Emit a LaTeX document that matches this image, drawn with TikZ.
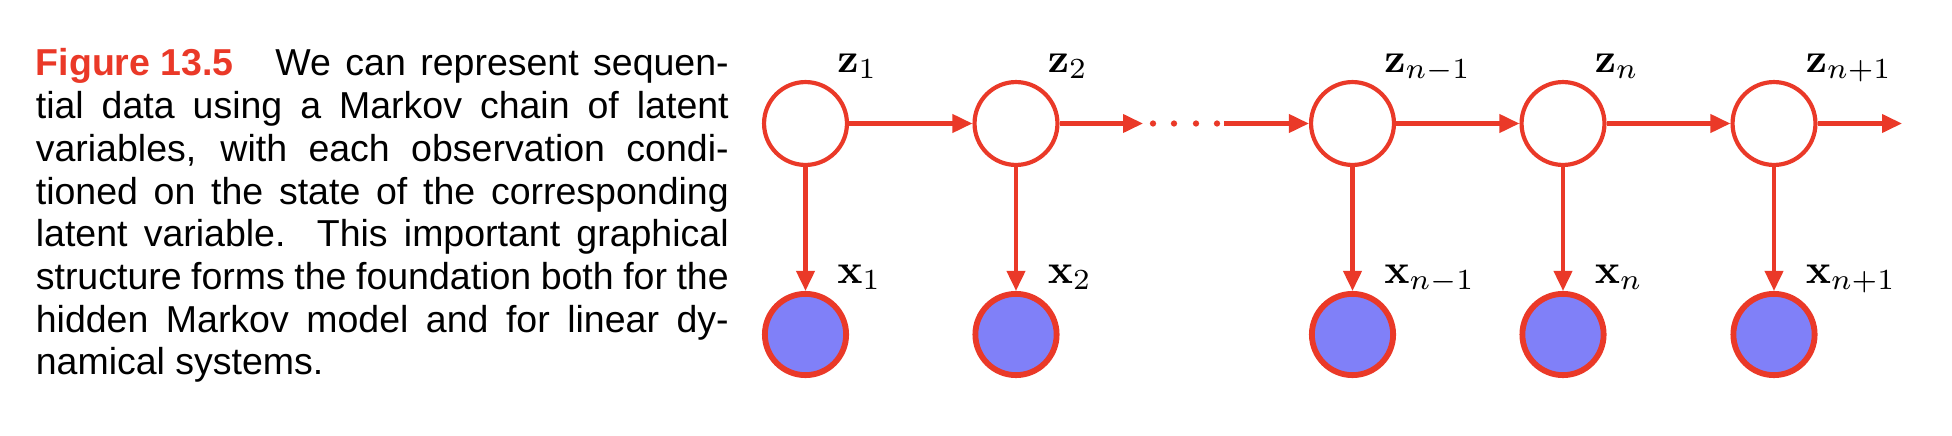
\documentclass[tikz,border=0pt]{standalone}
\usepackage[no-math]{fontspec}
\usepackage{xcolor}
\usetikzlibrary{arrows.meta,calc}

\newfontfamily\figsans{Liberation Sans}
\definecolor{figred}{RGB}{234,57,40}
\definecolor{figblue}{RGB}{128,128,248}

\tikzset{
	latent/.style={circle,draw=figred,line width=1pt,fill=white,minimum size=19.9pt,inner sep=0pt},
	observed/.style={circle,draw=figred,line width=1.4pt,fill=figblue,minimum size=19.5pt,inner sep=0pt},
	edge/.style={draw=figred,line width=1pt,-{Triangle[length=4.8pt,width=4.3pt]}},
	varlabel/.style={anchor=base west,inner sep=0pt}
}

\begin{document}
\begin{tikzpicture}[x=0.24pt,y=-0.24pt]
			\useasboundingbox (0,0) rectangle (1952,436);
			\node[anchor=base west,inner sep=0pt] (caption) at (35,76)
			{
				\begin{minipage}[t]{166.3pt}
					\figsans\fontsize{9pt}{10.25pt}\selectfont
					\makebox[\linewidth][s]{\mbox{\textcolor{figred}{\bfseries Figure 13.5}}\hspace{10pt}We can represent sequen-}\\
					\makebox[\linewidth][s]{tial data using a Markov chain of latent}\\
					\makebox[\linewidth][s]{variables, with each observation condi-}\\
					\makebox[\linewidth][s]{tioned on the state of the corresponding}\\
					\makebox[\linewidth][s]{latent variable.  This important graphical}\\
					\makebox[\linewidth][s]{structure forms the foundation both for the}\\
					\makebox[\linewidth][s]{hidden Markov model and for linear dy-}\\
					namical systems.
				\end{minipage}
			};

			\node[latent] (z1) at (805.5,123.5) {};
			\node[latent] (z2) at (1016,123.5) {};
			\node[latent] (zm) at (1352.5,123.5) {};
			\node[latent] (zn) at (1563,123.5) {};
			\node[latent] (zp) at (1774,123.5) {};
			\node[observed] (x1) at (805.5,334.5) {};
			\node[observed] (x2) at (1016,334.5) {};
			\node[observed] (xm) at (1352.5,334.5) {};
			\node[observed] (xn) at (1563,334.5) {};
			\node[observed] (xp) at (1774,334.5) {};

			\node[varlabel] (lz1) at ($(z1)+(31,-51)$) {$\mathbf{z}_1$};
			\node[varlabel] (lz2) at ($(z2)+(31,-51)$) {$\mathbf{z}_2$};
			\node[varlabel] (lzm) at ($(zm)+(31,-51)$) {$\mathbf{z}_{n-1}$};
			\node[varlabel] (lzn) at ($(zn)+(31,-51)$) {$\mathbf{z}_n$};
			\node[varlabel] (lzp) at ($(zp)+(31,-51)$) {$\mathbf{z}_{n+1}$};
			\node[varlabel] (lx1) at ($(x1)+(31,-51)$) {$\mathbf{x}_1$};
			\node[varlabel] (lx2) at ($(x2)+(31,-51)$) {$\mathbf{x}_2$};
			\node[varlabel] (lxm) at ($(xm)+(31,-51)$) {$\mathbf{x}_{n-1}$};
			\node[varlabel] (lxn) at ($(xn)+(31,-51)$) {$\mathbf{x}_n$};
			\node[varlabel] (lxp) at ($(xp)+(31,-51)$) {$\mathbf{x}_{n+1}$};

			\coordinate (dl) at (1143,123.5);
			\coordinate (dr) at (1224,123.5);
			\coordinate (zend) at (1902,123.5);

			\draw[edge] (z1) -- (z2);
			\draw[edge] (z2) -- (dl);
			\fill[figred] (1153,123.5) circle[radius=0.75pt] (1174,123.5) circle[radius=0.75pt]
				(1196,123.5) circle[radius=0.75pt] (1217,123.5) circle[radius=0.75pt];
			\draw[edge] (dr) -- (zm);
			\draw[edge] (zm) -- (zn);
			\draw[edge] (zn) -- (zp);
			\draw[edge] (zp) -- (zend);

			\draw[edge] (z1) -- (x1);
			\draw[edge] (z2) -- (x2);
			\draw[edge] (zm) -- (xm);
			\draw[edge] (zn) -- (xn);
			\draw[edge] (zp) -- (xp);
		\end{tikzpicture}
\end{document}
